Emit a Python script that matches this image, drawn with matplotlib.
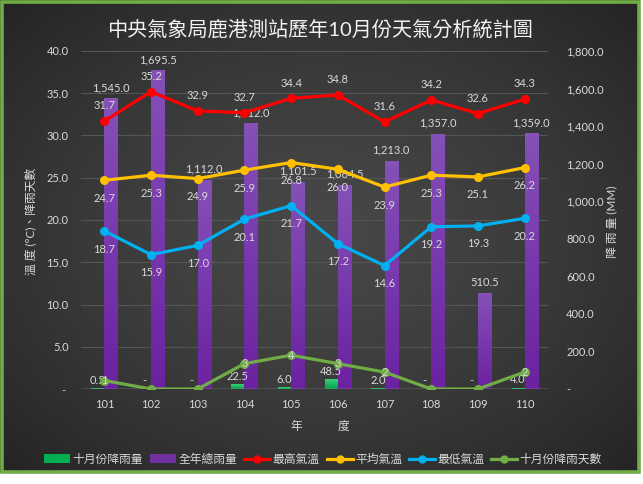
import numpy as np
import matplotlib
matplotlib.use("Agg")
import matplotlib.pyplot as plt
from matplotlib.lines import Line2D
from matplotlib.patches import Patch, Rectangle
from matplotlib.ticker import FuncFormatter, MultipleLocator

plt.rcParams["font.family"] = ["Lato", "Noto Sans CJK TC", "DejaVu Sans"]
plt.rcParams["axes.unicode_minus"] = False

# 年度別資料 (民國年)
years       = ["101", "102", "103", "104", "105", "106", "107", "108", "109", "110"]
oct_rain    = [0.5, 0.0, 0.0, 22.5, 6.0, 48.5, 2.0, 0.0, 0.0, 4.0]          # 十月份降雨量 (mm)
annual_rain = [1545.0, 1695.5, 1112.0, 1412.0, 1101.5, 1084.5, 1213.0, 1357.0, 510.5, 1359.0]
t_max       = [31.7, 35.2, 32.9, 32.7, 34.4, 34.8, 31.6, 34.2, 32.6, 34.3]
t_avg       = [24.7, 25.3, 24.9, 25.9, 26.8, 26.0, 23.9, 25.3, 25.1, 26.2]
t_min       = [18.7, 15.9, 17.0, 20.1, 21.7, 17.2, 14.6, 19.2, 19.3, 20.2]
rain_days   = [1, 0, 0, 3, 4, 3, 2, 0, 0, 2]

TXT   = "#D9D9D9"
C_OCT = "#00B050"
C_ANN = "#7030A0"
C_MAX = "#FF0000"
C_AVG = "#FFC000"
C_MIN = "#00B0F0"
C_DAY = "#70AD47"

W, H = 643, 484
fig = plt.figure(figsize=(W / 100, H / 100), dpi=100, facecolor="white")

# 背景: 放射狀深灰漸層 + 綠框
bg = fig.add_axes([0, 11 / H, 640 / W, 473 / H])
yy, xx = np.mgrid[-1:1:300j, -1:1:400j]
r = np.clip(np.sqrt(xx ** 2 + yy ** 2) / np.sqrt(2), 0, 1)
shade = 0.28 - 0.14 * r ** 1.4
bg.imshow(np.dstack([shade] * 3), aspect="auto", extent=(0, 1, 0, 1))
bg.set_axis_off()
fig.patches.append(Rectangle((1.5 / W, 12.5 / H), 637 / W, 470 / H, transform=fig.transFigure,
                             fill=False, edgecolor=C_DAY, linewidth=2.6, zorder=10))

x = np.arange(len(years))
bw = 0.28

# 主座標 (溫度): 網格 + 左刻度
ax = fig.add_axes([81 / W, 95 / H, 467 / W, 338 / H])
ax.set_facecolor("none")
ax.set_xlim(-0.5, len(years) - 0.5)
ax.set_ylim(0, 40)
ax.yaxis.set_major_locator(MultipleLocator(5))
ax.yaxis.set_major_formatter(FuncFormatter(lambda v, p: "- " if v == 0 else f"{v:.1f}"))
ax.set_xticks(x)
ax.set_xticklabels(years)
ax.grid(axis="y", color="#555555", linewidth=0.8)
ax.tick_params(axis="y", length=0, pad=9, labelcolor=TXT, labelsize=8)
ax.tick_params(axis="x", length=0, pad=7, labelcolor=TXT, labelsize=8)
for s in ax.spines.values():
    s.set_visible(False)

# 雨量 (右軸)
axr = ax.twinx()
axr.set_ylim(0, 1800)
axr.yaxis.set_major_locator(MultipleLocator(200))
axr.yaxis.set_major_formatter(FuncFormatter(lambda v, p: "-" if v == 0 else f"{v:,.1f}"))
axr.tick_params(axis="y", length=0, pad=13, labelcolor=TXT, labelsize=8)
for s in axr.spines.values():
    s.set_visible(False)


def grad_bars(a, bars, top, bot):
    top = np.array(matplotlib.colors.to_rgb(top))
    bot = np.array(matplotlib.colors.to_rgb(bot))
    g = np.linspace(0, 1, 64)[:, None, None]
    img = top * (1 - g) + bot * g
    for b in bars:
        h = b.get_height()
        if h <= 0:
            continue
        x0 = b.get_x()
        a.imshow(img, extent=(x0, x0 + b.get_width(), 0, h), aspect="auto",
                 origin="upper", zorder=b.get_zorder() + 0.1)


bars_oct = axr.bar(x - bw / 2, oct_rain, bw, color=C_OCT, linewidth=0)
bars_ann = axr.bar(x + bw / 2, annual_rain, bw, color=C_ANN, linewidth=0)
grad_bars(axr, bars_oct, "#3CD17C", "#00A046")
grad_bars(axr, bars_ann, "#8550B8", "#6B22A0")
axr.set_xlim(-0.5, len(years) - 0.5)
axr.set_ylim(0, 1800)

for xi, v in zip(x, annual_rain):
    axr.annotate(f"{v:,.1f}", (xi + bw / 2, v), xytext=(0, 4), textcoords="offset points",
                 ha="center", va="bottom", color=TXT, fontsize=8)
for xi, v in zip(x, oct_rain):
    axr.annotate("-" if v == 0 else f"{v:.1f}", (xi - bw / 2, v), xytext=(0, 2),
                 textcoords="offset points", ha="center", va="bottom", color=TXT, fontsize=8)

# 溫度與降雨天數 (最上層)
axl = ax.twinx()
axl.set_ylim(0, 40)
axl.set_xlim(-0.5, len(years) - 0.5)
axl.set_axis_off()
axl.axhline(0, color="#A6A6A6", linewidth=1, zorder=1)

for vals, c, dy in [(t_max, C_MAX, 11), (t_avg, C_AVG, -13), (t_min, C_MIN, -13)]:
    axl.plot(x, vals, color=c, linewidth=2.3, marker="o", markersize=5.5, zorder=3)
    for xi, v in zip(x, vals):
        axl.annotate(f"{v:.1f}", (xi, v), xytext=(0, dy), textcoords="offset points",
                     ha="center", va="center", color=TXT, fontsize=8)

axl.plot(x, rain_days, color=C_DAY, linewidth=2.3, marker="o", markersize=5.5, zorder=3)
for xi, v in zip(x, rain_days):
    if v > 0:
        axl.annotate(f"{v}", (xi, v), ha="center", va="center", color=TXT, fontsize=8, zorder=4)

# 標題與軸標題
fig.text(320 / W, 1 - 29 / H, "中央氣象局鹿港測站歷年10月份天氣分析統計圖",
         ha="center", va="center", color="#F2F2F2", fontsize=14.5)
fig.text(30 / W, 1 - 221 / H, "溫 度 (°C)、降雨天數", rotation=90,
         ha="center", va="center", color=TXT, fontsize=8.5)
fig.text(613 / W, 1 - 222 / H, "降 雨 量 (MM)", rotation=90,
         ha="center", va="center", color=TXT, fontsize=8.5)
fig.text(320 / W, 1 - 426 / H, "年　　　度", ha="center", va="center", color=TXT, fontsize=8.5)

handles = [
    Patch(facecolor=C_OCT),
    Patch(facecolor=C_ANN),
    Line2D([], [], color=C_MAX, linewidth=2.3, marker="o", markersize=5),
    Line2D([], [], color=C_AVG, linewidth=2.3, marker="o", markersize=5),
    Line2D([], [], color=C_MIN, linewidth=2.3, marker="o", markersize=5),
    Line2D([], [], color=C_DAY, linewidth=2.3, marker="o", markersize=5),
]
labels = ["十月份降雨量", "全年總雨量", "最高氣溫", "平均氣溫", "最低氣溫", "十月份降雨天數"]
fig.legend(handles, labels, loc="center", bbox_to_anchor=(323 / W, 1 - 459 / H), ncol=6,
           frameon=False, fontsize=8.5, labelcolor=TXT, handlelength=2.2,
           handletextpad=0.2, columnspacing=0.6)

fig.savefig("out.png", dpi=100, facecolor=fig.get_facecolor())
